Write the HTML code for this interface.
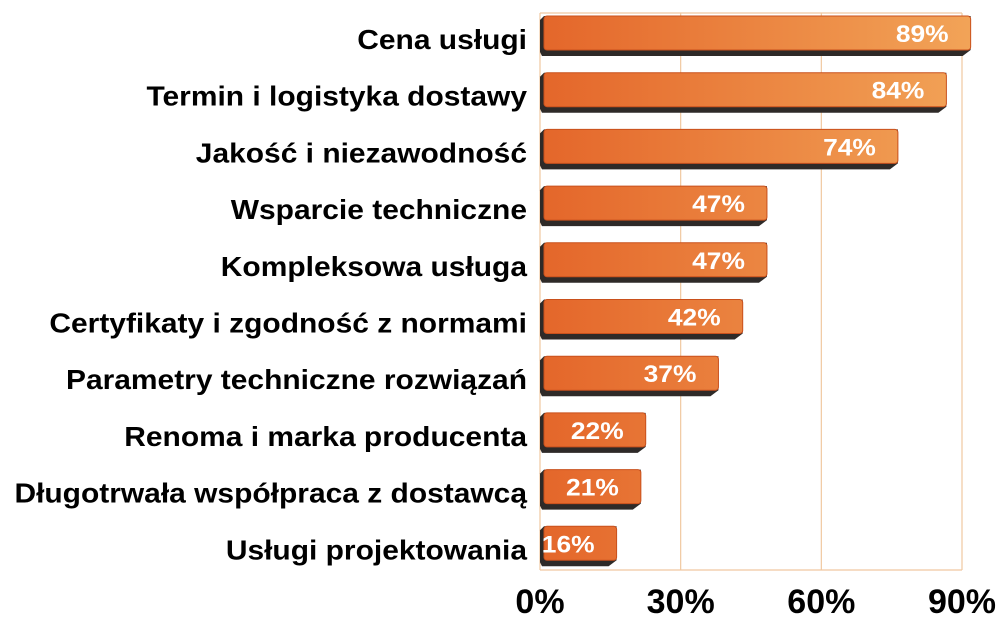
<!DOCTYPE html>
<html><head><meta charset="utf-8"><style>
html,body{margin:0;padding:0;background:#fff;}
svg{display:block;font-family:"Liberation Sans",Arial,sans-serif;font-weight:bold;}
</style></head><body>
<svg id="chart" width="1000" height="631" viewBox="0 0 1000 631" xmlns="http://www.w3.org/2000/svg">
<defs>
<linearGradient id="barGrad" gradientUnits="userSpaceOnUse" x1="540" y1="0" x2="975" y2="0">
<stop offset="0" stop-color="#e4662a"/><stop offset="1" stop-color="#f2a458"/>
</linearGradient>
</defs>
<g id="grid"></g><g id="bars"></g><g id="labels"></g><g id="ticks"></g>
</svg>
<script>
const categories = ["Cena usługi","Termin i logistyka dostawy","Jakość i niezawodność","Wsparcie techniczne","Kompleksowa usługa","Certyfikaty i zgodność z normami","Parametry techniczne rozwiązań","Renoma i marka producenta","Długotrwała współpraca z dostawcą","Usługi projektowania"];
const values = [89,84,74,47,47,42,37,22,21,16];
const tickValues = [0,30,60,90];
const tickLabels = ["0%","30%","60%","90%"];

const NS = "http://www.w3.org/2000/svg";
const plotLeft = 540, plotTop = 13, plotBottom = 570, step = 56.7, firstCenter = 37;
function gridX(v){ return plotLeft + v * (422/90); }
function barX(v){ return 539 + v * 4.85; }
function yCenter(i){ return firstCenter + i * step; }
function mk(tag, attrs, parent){ const e = document.createElementNS(NS, tag); for (const k in attrs) e.setAttribute(k, attrs[k]); parent.appendChild(e); return e; }

const grid = document.getElementById('grid');
tickValues.forEach((v, i) => {
  const l = mk('line', {x1: gridX(v), x2: gridX(v), y1: plotTop, y2: plotBottom, stroke: '#f0c8a0', 'stroke-width': 1.2}, grid);
  
  
});
const frameTop = mk('line', {x1: plotLeft, x2: gridX(90), y1: plotTop, y2: plotTop, stroke: '#f0c8a0', 'stroke-width': 1.2}, grid);


const frameBot = mk('line', {x1: plotLeft, x2: gridX(90), y1: plotBottom, y2: plotBottom, stroke: '#f0c8a0', 'stroke-width': 1.2}, grid);



const bars = document.getElementById('bars');
const labels = document.getElementById('labels');
values.forEach((v, i) => {
  const c = yCenter(i);
  const x1 = barX(v);
  const g = mk('g', {}, bars);
  
  
  const sh = mk('path', {d: `M${plotLeft} ${c-17} L${plotLeft+4} ${c-21} L${x1} ${c-21} L${x1} ${c+13} L${x1-8} ${c+19} L${plotLeft+2} ${c+19} L${plotLeft} ${c+15} Z`, fill: '#2e2a28'}, g);
  
  
  const fr = mk('rect', {x: plotLeft + 4, y: c - 21, width: Math.max(0, x1 - plotLeft - 4), height: 34, rx: 3, fill: 'url(#barGrad)', stroke: '#c9501c', 'stroke-width': 1}, g);
  
  
  const vt = mk('text', {x: 0, y: 0, transform: `translate(${x1 - 22},${c + 5}) scale(1.1,1)`, 'text-anchor': 'end', 'font-size': 24, fill: '#fff'}, g);
  vt.textContent = v + '%';
  
  
  const ct = mk('text', {x: 0, y: 0, transform: `translate(527,${c + 12}) scale(1.07,1)`, 'text-anchor': 'end', 'font-size': 28, fill: '#000'}, labels);
  ct.textContent = categories[i];
  
  
});

const ticks = document.getElementById('ticks');
tickValues.forEach((v, i) => {
  const t = mk('text', {x: gridX(v), y: 613, 'text-anchor': 'middle', 'font-size': 34, fill: '#000'}, ticks);
  t.textContent = tickLabels[i];
  
  
});
</script>
</body></html>
